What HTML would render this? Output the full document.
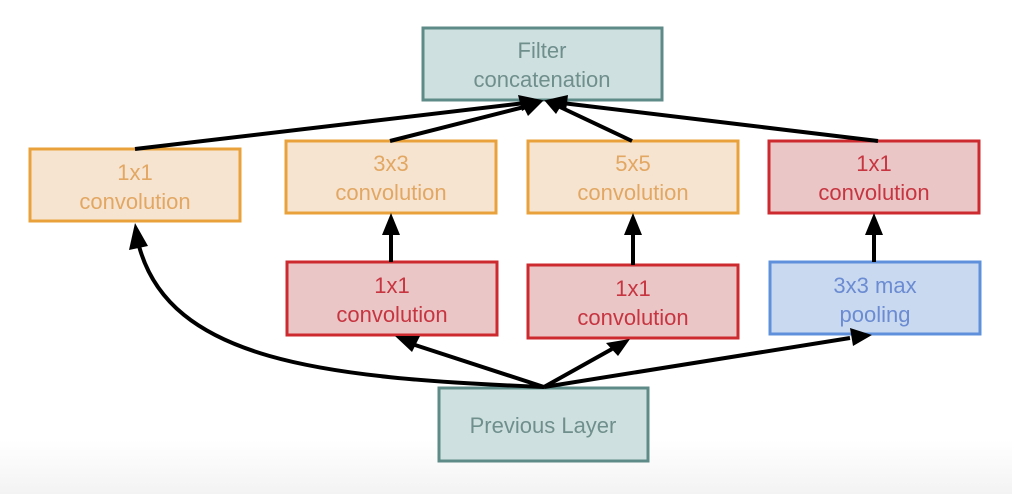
<!DOCTYPE html>
<html><head><meta charset="utf-8"><style>
html,body{margin:0;padding:0;}
body{width:1012px;height:494px;overflow:hidden;background:linear-gradient(#fff 0,#fff 440px,#f3f3f3 494px);}
svg{display:block}
text{font-family:"Liberation Sans",sans-serif;font-size:22px;text-anchor:middle;}
</style></head><body>
<svg width="1012" height="494" viewBox="0 0 1012 494">
<g stroke-width="3">
<rect x="423" y="28" width="239" height="72" fill="#cfe0e0" stroke="#5e8b88"/>
<rect x="30" y="149" width="210" height="72" fill="#f6e4d1" stroke="#e9a23b"/>
<rect x="286" y="141" width="210" height="72" fill="#f6e4d1" stroke="#e9a23b"/>
<rect x="528" y="141" width="210" height="72" fill="#f6e4d1" stroke="#e9a23b"/>
<rect x="769" y="141" width="210" height="72" fill="#ebc6c7" stroke="#cc2a2e"/>
<rect x="287" y="262" width="210" height="73" fill="#ebc6c7" stroke="#cc2a2e"/>
<rect x="528" y="265" width="210" height="73" fill="#ebc6c7" stroke="#cc2a2e"/>
<rect x="770" y="262" width="210" height="72" fill="#c9d9f0" stroke="#5e90dc"/>
<rect x="439" y="388" width="209" height="73" fill="#cfe0e0" stroke="#5e8b88"/>
</g>
<g fill="#6f8f8d"><text x="542" y="58">Filter</text><text x="542" y="87">concatenation</text>
<text x="543" y="433">Previous Layer</text></g>
<g fill="#e2a762"><text x="135" y="180">1x1</text><text x="135" y="209">convolution</text>
<text x="391" y="171">3x3</text><text x="391" y="200">convolution</text>
<text x="633" y="171">5x5</text><text x="633" y="200">convolution</text></g>
<g fill="#c63540"><text x="874" y="171">1x1</text><text x="874" y="200">convolution</text>
<text x="392" y="293">1x1</text><text x="392" y="322">convolution</text>
<text x="633" y="296">1x1</text><text x="633" y="325">convolution</text></g>
<g fill="#6b8bd2"><text x="875" y="293">3x3 max</text><text x="875" y="322">pooling</text></g>
<g stroke="#000" stroke-width="4" fill="none">
<line x1="135" y1="149" x2="525" y2="103"/>
<line x1="390" y1="141" x2="528" y2="106"/>
<line x1="632" y1="141" x2="560" y2="107"/>
<line x1="878" y1="141" x2="562" y2="103"/>
<line x1="391" y1="262" x2="391" y2="232"/>
<line x1="633" y1="265" x2="633" y2="232"/>
<line x1="874" y1="262" x2="874" y2="232"/>
<path d="M544 387 C 320 378 170 360 139 246"/>
<line x1="544" y1="387" x2="412" y2="344"/>
<line x1="544" y1="387" x2="612" y2="349"/>
<line x1="544" y1="387" x2="850" y2="338"/>
</g>
<g fill="#000">
<polygon points="542,100 518,95 522,111"/>
<polygon points="544,100 528,116 521,102"/>
<polygon points="544,100 556,114 564,101"/>
<polygon points="546,100 568,95 566,111"/>
<polygon points="391,213 382,235 400,235"/>
<polygon points="633,213 624,235 642,235"/>
<polygon points="874,213 865,235 883,235"/>
<polygon points="135,223 129,250 148,246"/>
<polygon points="395,336 420,336 412,352"/>
<polygon points="630,339 618,356 606,343"/>
<polygon points="872,335 850,328 853,346"/>
</g>
</svg>
</body></html>
